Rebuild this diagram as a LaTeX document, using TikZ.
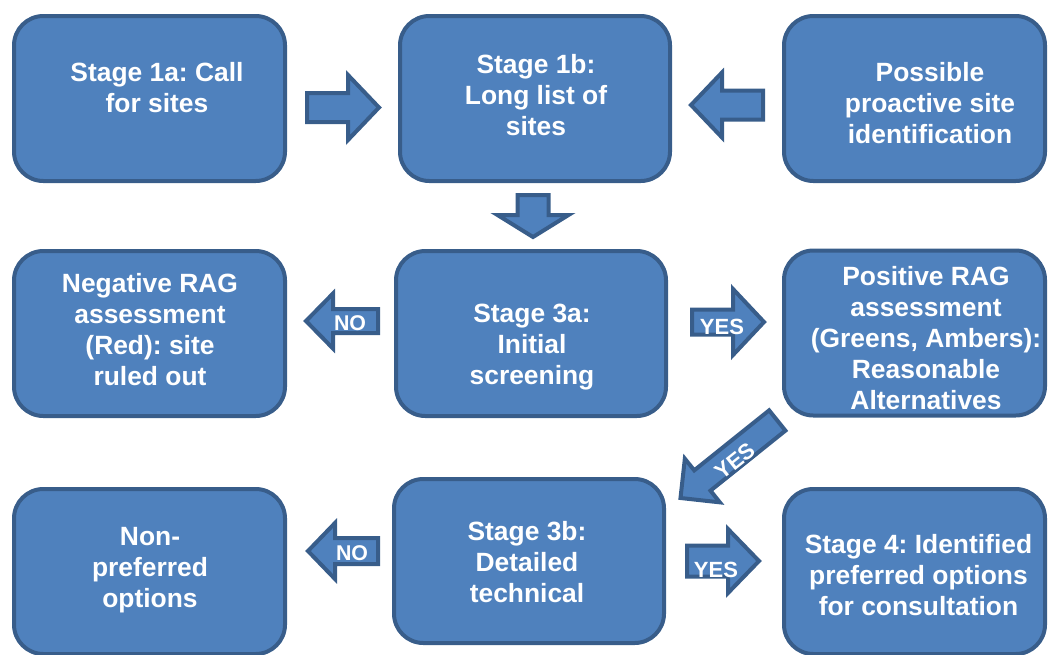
\documentclass[tikz,border=0pt]{standalone}
\usepackage{fontspec}
\setmainfont{Liberation Sans}
\usepackage{xcolor}
\definecolor{box_fill}{HTML}{4F81BD}
\definecolor{box_line}{HTML}{385D8A}
\frenchspacing

\begin{document}
\begin{tikzpicture}[x=0.75pt, y=-0.75pt,
    stagebox/.style={draw=box_line, fill=box_fill, line width=3pt, rounded corners=22pt,
      minimum width=203.25pt, minimum height=123.75pt},
    boxtext/.style={text=white, align=center, font=\bfseries\fontsize{19.8}{23.25}\selectfont},
    arrowline/.style={draw=box_line, fill=box_fill, line width=3pt},
    % block arrow, tip at the origin: length, head width, shaft width, head length
    pics/blockarr/.style n args={4}{code={
      \draw[arrowline] (0,0) -- (-#4,-#2/2) -- (-#4,-#3/2) -- (-#1,-#3/2)
        -- (-#1,#3/2) -- (-#4,#3/2) -- (-#4,#2/2) -- cycle;}},
    notext/.style={text=white, font=\bfseries\fontsize{16}{19}\selectfont},
    yestext/.style={text=white, font=\bfseries\fontsize{16.5}{19}\selectfont}
  ]
    \useasboundingbox (0,0) rectangle (1049,654);
    \clip (0,0) rectangle (1049,654);

    % Stage boxes, row by row
    \node[stagebox] (s1a) at (149.5,98.5) {};
    \node[stagebox, minimum width=202.5pt] (s1b) at (535,98.5) {};
    \node[stagebox, minimum width=195.75pt] (proact) at (914.5,98.5) {};

    \node[stagebox] (neg) at (149.5,333.5) {};
    \node[stagebox, minimum width=202.5pt] (s3a) at (531,333.5) {};
    \node[stagebox, minimum width=195.75pt] (pos) at (914.5,333) {};

    \node[stagebox] (nonpref) at (149.5,571.5) {};
    \node[stagebox, minimum width=202.5pt, minimum height=123pt] (s3b) at (529,561) {};
    \node[stagebox, minimum width=195.75pt] (s4) at (914.5,571.5) {};

    % Box texts
    \node[boxtext] (s1a-txt) at (157,88) {Stage 1a: Call\\for sites};
    \node[boxtext] (s1b-txt) at (536,95) {Stage 1b:\\Long list of\\sites};
    \node[boxtext] (proact-txt) at (930,103) {Possible\\proactive site\\identification};
    \node[boxtext] (neg-txt) at (150,330) {Negative RAG\\assessment\\(Red): site\\ruled out};
    \node[boxtext] (s3a-txt) at (532,347) {Stage 3a:\\Initial\\screening};
    \node[boxtext] (pos-txt) at (926,338) {Positive RAG\\assessment\\(Greens, Ambers):\\Reasonable\\Alternatives};
    \node[boxtext] (nonpref-txt) at (150,570) {Non-\\preferred\\options};
    \node[boxtext] (s3b-txt) at (527,562) {Stage 3b:\\Detailed\\technical};
    \node[boxtext] (s4-txt) at (918.5,575) {Stage 4: Identified\\preferred options\\for consultation};

    % Block arrows
    \pic (call-arr) at (379,107.5) {blockarr={72}{65}{29}{31}};
    \pic[rotate=180] (proact-arr) at (691,105) {blockarr={72}{65}{29}{31}};
    \pic[rotate=270] (down-arr) at (533,237) {blockarr={42}{71}{31}{22}};

    \pic[rotate=180] (no-arr1) at (306,321) {blockarr={72}{55}{24}{27}};
    \pic (yes-arr1) at (764,322) {blockarr={72}{66}{25}{31}};
    \pic[rotate=218.7] (yes-arr2) at (680.5,498) {blockarr={124}{56}{26}{28}};
    \pic[rotate=180] (no-arr2) at (308,551) {blockarr={70}{56}{26}{27}};
    \pic (yes-arr3) at (759,561) {blockarr={72}{64}{31}{31}};

    % Arrow labels
    \node[notext] (no-lbl1) at (350,323) {NO};
    \node[yestext] (yes-lbl1) at (722,327) {YES};
    \node[yestext, rotate=38.7] (yes-lbl2) at (735,461) {YES};
    \node[notext] (no-lbl2) at (352,553) {NO};
    \node[yestext] (yes-lbl3) at (716,570) {YES};
\end{tikzpicture}
\end{document}
